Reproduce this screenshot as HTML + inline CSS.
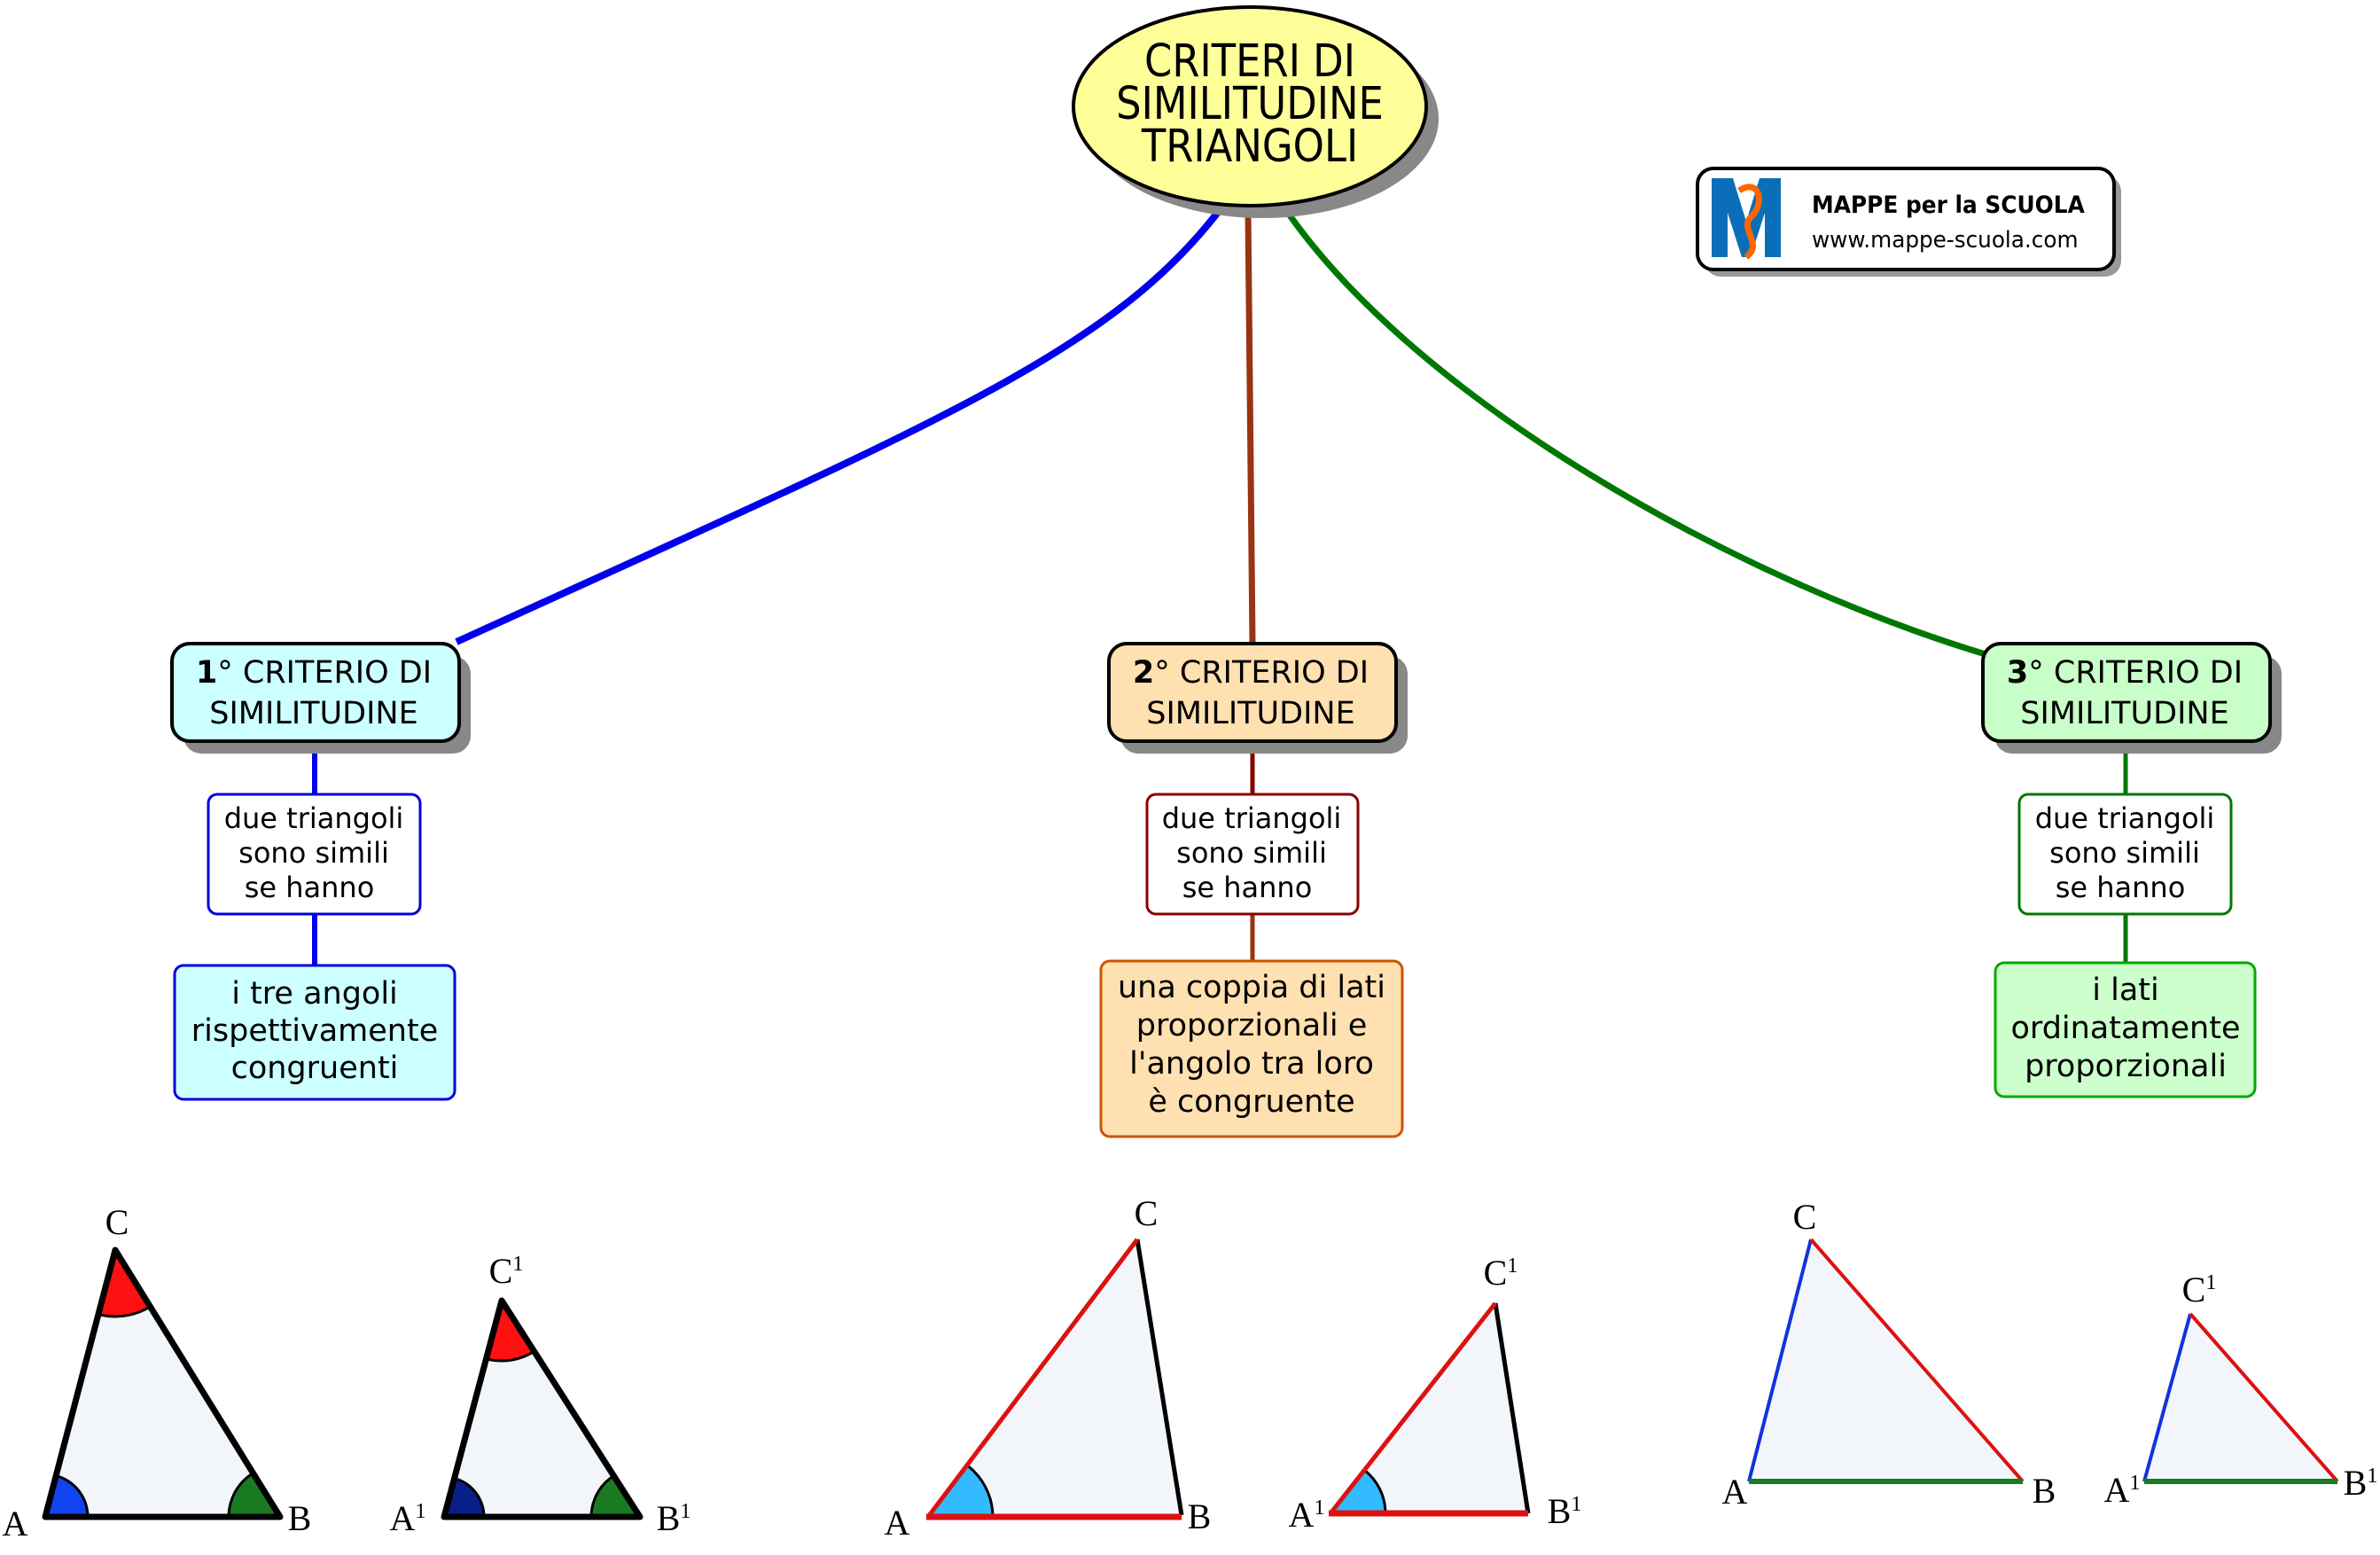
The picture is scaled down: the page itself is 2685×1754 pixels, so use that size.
<!DOCTYPE html>
<html><head><meta charset="utf-8"><style>
html,body{margin:0;padding:0;background:#fff;}
svg{display:block;}
</style></head><body>
<svg width="2685" height="1754" viewBox="0 0 2685 1754" xmlns="http://www.w3.org/2000/svg">
<defs>
<clipPath id="t1"><polygon points="51,1711 316,1711 130,1410"/></clipPath>
<clipPath id="t2"><polygon points="501,1711 722,1711 566,1467"/></clipPath>
<clipPath id="t3"><polygon points="1047,1711 1333,1709 1283,1398"/></clipPath>
<clipPath id="t4"><polygon points="1501,1707 1724,1707 1687,1470"/></clipPath>
</defs>
<!-- connectors -->
<path d="M1375,238 C1250,400 1050,480 515,724" fill="none" stroke="#0000ee" stroke-width="8"/>
<path d="M1408,240 L1413,726" fill="none" stroke="#993311" stroke-width="7"/>
<path d="M1453,240 C1600,450 1950,650 2240,738" fill="none" stroke="#007700" stroke-width="7"/>
<line x1="355" y1="836" x2="355" y2="896" stroke="#0000ee" stroke-width="6"/>
<line x1="355" y1="1031" x2="355" y2="1089" stroke="#0000ee" stroke-width="6"/>
<line x1="1413" y1="836" x2="1413" y2="896" stroke="#880000" stroke-width="5"/>
<line x1="1413" y1="1031" x2="1413" y2="1084" stroke="#993311" stroke-width="5"/>
<line x1="2398" y1="836" x2="2398" y2="896" stroke="#007700" stroke-width="5"/>
<line x1="2398" y1="1031" x2="2398" y2="1086" stroke="#007700" stroke-width="5"/>

<!-- title ellipse -->
<ellipse cx="1424" cy="134" rx="199" ry="112" fill="#888"/>
<ellipse cx="1410" cy="120" rx="199" ry="112" fill="#ffff99" stroke="#000" stroke-width="4"/>
<g font-family="DejaVu Sans, Liberation Sans, sans-serif" font-size="51" text-anchor="middle" fill="#000" transform="translate(1410,0) scale(0.88,1)">
<text x="0" y="86">CRITERI DI</text>
<text x="0" y="134">SIMILITUDINE</text>
<text x="0" y="182">TRIANGOLI</text>
</g>

<!-- logo -->
<rect x="1923" y="198" width="470" height="114" rx="18" fill="#999"/>
<rect x="1915" y="190" width="470" height="114" rx="18" fill="#fff" stroke="#000" stroke-width="4"/>
<path d="M1931,290 L1931,201 L1955,201 L1970,250 L1985,201 L2009,201 L2009,290 L1991,290 L1991,240 L1975,290 L1965,290 L1949,240 L1949,290 Z" fill="#0a6fb8"/>
<path d="M1962,215 C1985,200 1992,230 1975,245 C1962,258 1990,275 1970,290" fill="none" stroke="#ff6600" stroke-width="7"/>
<text x="2044" y="240" font-family="DejaVu Sans, sans-serif" font-weight="bold" font-size="27" transform="translate(2044,0) scale(0.92,1) translate(-2044,0)">MAPPE per la SCUOLA</text>
<text x="2044" y="279" font-family="DejaVu Sans, sans-serif" font-size="26" transform="translate(2044,0) scale(0.95,1) translate(-2044,0)">www.mappe-scuola.com</text>

<!-- level 1 nodes -->
<g font-family="Verdana, DejaVu Sans, sans-serif" font-size="35" text-anchor="middle">
<rect x="207" y="740" width="324" height="110" rx="20" fill="#888"/>
<rect x="194" y="726" width="324" height="110" rx="20" fill="#ccffff" stroke="#000" stroke-width="4"/>
<text x="354" y="770"><tspan font-weight="bold">1</tspan>° CRITERIO DI</text>
<text x="354" y="816">SIMILITUDINE</text>

<rect x="1264" y="740" width="324" height="110" rx="20" fill="#888"/>
<rect x="1251" y="726" width="324" height="110" rx="20" fill="#ffe0b0" stroke="#000" stroke-width="4"/>
<text x="1411" y="770"><tspan font-weight="bold">2</tspan>° CRITERIO DI</text>
<text x="1411" y="816">SIMILITUDINE</text>

<rect x="2250" y="740" width="324" height="110" rx="20" fill="#888"/>
<rect x="2237" y="726" width="324" height="110" rx="20" fill="#c8ffc8" stroke="#000" stroke-width="4"/>
<text x="2397" y="770"><tspan font-weight="bold">3</tspan>° CRITERIO DI</text>
<text x="2397" y="816">SIMILITUDINE</text>
</g>

<!-- small boxes -->
<g font-family="Verdana, DejaVu Sans, sans-serif" font-size="32" text-anchor="middle">
<rect x="235" y="896" width="239" height="135" rx="10" fill="#fff" stroke="#0000dd" stroke-width="3"/>
<text x="354" y="934">due triangoli</text><text x="354" y="973">sono simili</text><text x="349" y="1012">se hanno</text>
<rect x="1294" y="896" width="238" height="135" rx="10" fill="#fff" stroke="#880000" stroke-width="3"/>
<text x="1412" y="934">due triangoli</text><text x="1412" y="973">sono simili</text><text x="1407" y="1012">se hanno</text>
<rect x="2278" y="896" width="239" height="135" rx="10" fill="#fff" stroke="#007700" stroke-width="3"/>
<text x="2397" y="934">due triangoli</text><text x="2397" y="973">sono simili</text><text x="2392" y="1012">se hanno</text>
</g>

<!-- bottom boxes -->
<g font-family="Verdana, DejaVu Sans, sans-serif" font-size="35" text-anchor="middle">
<rect x="197" y="1089" width="316" height="151" rx="10" fill="#ccffff" stroke="#0000dd" stroke-width="3"/>
<text x="355" y="1132">i tre angoli</text><text x="355" y="1174">rispettivamente</text><text x="355" y="1216">congruenti</text>
<rect x="1242" y="1084" width="340" height="198" rx="10" fill="#ffe0b0" stroke="#cc5500" stroke-width="3"/>
<text x="1412" y="1125">una coppia di lati</text><text x="1412" y="1168">proporzionali e</text><text x="1412" y="1211">l'angolo tra loro</text><text x="1412" y="1254">è congruente</text>
<rect x="2251" y="1086" width="293" height="151" rx="10" fill="#ccffcc" stroke="#00aa00" stroke-width="3"/>
<text x="2398" y="1128">i lati</text><text x="2398" y="1171">ordinatamente</text><text x="2398" y="1214">proporzionali</text>
</g>

<!-- triangles -->
<polygon points="51,1711 316,1711 130,1410" fill="#f2f6fb"/>
<g clip-path="url(#t1)" stroke="#000" stroke-width="3">
<circle cx="130" cy="1410" r="75" fill="#ff1111"/>
<circle cx="51" cy="1711" r="48" fill="#1144ee"/>
<circle cx="316" cy="1711" r="58" fill="#1a7a22"/>
</g>
<polygon points="51,1711 316,1711 130,1410" fill="none" stroke="#000" stroke-width="7" stroke-linejoin="round"/>

<polygon points="501,1711 722,1711 566,1467" fill="#f2f6fb"/>
<g clip-path="url(#t2)" stroke="#000" stroke-width="3">
<circle cx="566" cy="1467" r="68" fill="#ff1111"/>
<circle cx="501" cy="1711" r="45" fill="#0a1e88"/>
<circle cx="722" cy="1711" r="55" fill="#1a7a22"/>
</g>
<polygon points="501,1711 722,1711 566,1467" fill="none" stroke="#000" stroke-width="7" stroke-linejoin="round"/>

<polygon points="1047,1711 1333,1709 1283,1398" fill="#f2f6fb"/>
<g clip-path="url(#t3)" stroke="#000" stroke-width="3">
<circle cx="1047" cy="1711" r="73" fill="#33bbff"/>
</g>
<line x1="1333" y1="1709" x2="1283" y2="1398" stroke="#000" stroke-width="5"/>
<line x1="1047" y1="1711" x2="1283" y2="1398" stroke="#dd1111" stroke-width="5"/>
<line x1="1045" y1="1711" x2="1333" y2="1711" stroke="#dd1111" stroke-width="7"/>

<polygon points="1501,1707 1724,1707 1687,1470" fill="#f2f6fb"/>
<g clip-path="url(#t4)" stroke="#000" stroke-width="3">
<circle cx="1501" cy="1707" r="62" fill="#33bbff"/>
</g>
<line x1="1724" y1="1707" x2="1687" y2="1470" stroke="#000" stroke-width="5"/>
<line x1="1501" y1="1707" x2="1687" y2="1470" stroke="#dd1111" stroke-width="5"/>
<line x1="1499" y1="1707" x2="1724" y2="1707" stroke="#dd1111" stroke-width="7"/>

<polygon points="1973,1671 2282,1671 2043,1398" fill="#f2f6fb"/>
<line x1="1973" y1="1671" x2="2043" y2="1398" stroke="#1133dd" stroke-width="4"/>
<line x1="2282" y1="1671" x2="2043" y2="1398" stroke="#dd1111" stroke-width="4"/>
<line x1="1973" y1="1671" x2="2282" y2="1671" stroke="#1a7a22" stroke-width="6"/>

<polygon points="2419,1671 2637,1671 2471,1482" fill="#f2f6fb"/>
<line x1="2419" y1="1671" x2="2471" y2="1482" stroke="#1133dd" stroke-width="4"/>
<line x1="2637" y1="1671" x2="2471" y2="1482" stroke="#dd1111" stroke-width="4"/>
<line x1="2419" y1="1671" x2="2637" y2="1671" stroke="#1a7a22" stroke-width="6"/>

<!-- vertex labels -->
<g font-family="Liberation Serif, serif" font-size="40" fill="#000" text-anchor="middle">
<text x="132" y="1392">C</text>
<text x="17" y="1732">A</text>
<text x="338" y="1726">B</text>
<text x="571" y="1447">C<tspan font-size="24" dy="-14">1</tspan></text>
<text x="460" y="1726">A<tspan font-size="24" dy="-14">1</tspan></text>
<text x="760" y="1726">B<tspan font-size="24" dy="-14">1</tspan></text>
<text x="1293" y="1382">C</text>
<text x="1012" y="1731">A</text>
<text x="1353" y="1724">B</text>
<text x="1693" y="1449">C<tspan font-size="24" dy="-14">1</tspan></text>
<text x="1474" y="1722">A<tspan font-size="24" dy="-14">1</tspan></text>
<text x="1765" y="1718">B<tspan font-size="24" dy="-14">1</tspan></text>
<text x="2036" y="1386">C</text>
<text x="1957" y="1696">A</text>
<text x="2306" y="1695">B</text>
<text x="2481" y="1468">C<tspan font-size="24" dy="-14">1</tspan></text>
<text x="2394" y="1694">A<tspan font-size="24" dy="-14">1</tspan></text>
<text x="2663" y="1686">B<tspan font-size="24" dy="-14">1</tspan></text>
</g>
</svg>
</body></html>
